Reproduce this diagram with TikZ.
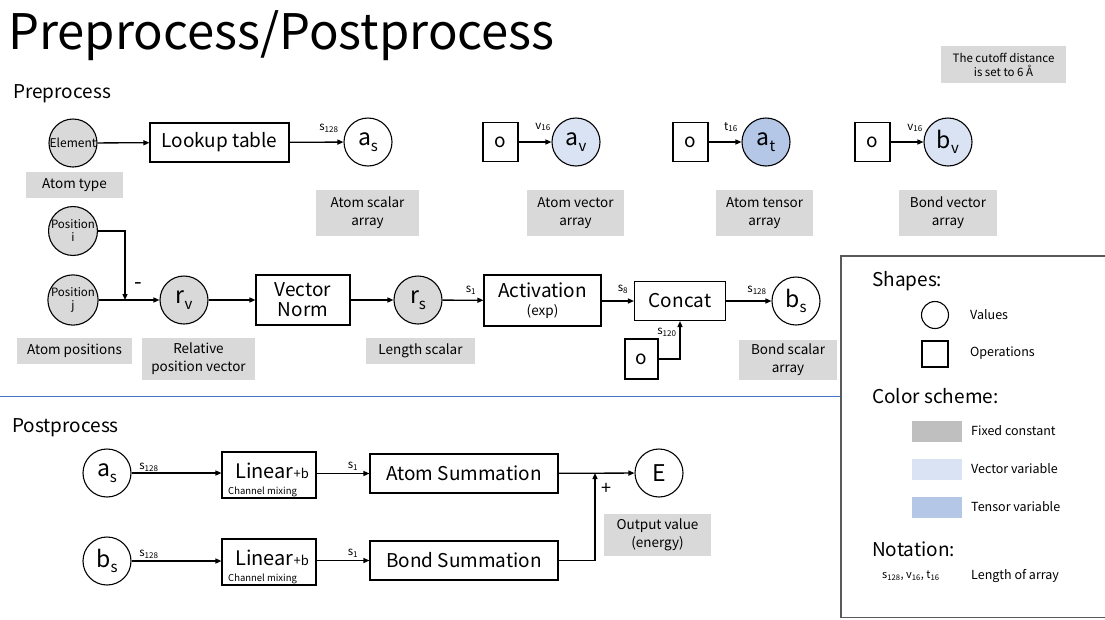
\documentclass[tikz,border=0pt]{standalone}
\usepackage{fontspec}
\setmainfont{Noto Sans CJK JP}
\usetikzlibrary{arrows.meta,calc}
\definecolor{notegray}{HTML}{D9D9D9}
\definecolor{valgray}{HTML}{D9D9D9}
\definecolor{swgray}{HTML}{BFBFBF}
\definecolor{vecblue}{HTML}{DAE3F3}
\definecolor{tenblue}{HTML}{B4C7E7}
\definecolor{rulblue}{HTML}{4472C4}
\definecolor{framegray}{HTML}{595959}
\newcommand\fsz[2]{\fontsize{#1}{#2}\selectfont}
\newcommand\lsub[1]{\textsubscript{#1}}
% subscript of a value name, set a little lower than usual
\newcommand\vsub[1]{\raisebox{-0.45ex}{\fontsize{15}{15}\selectfont #1}}
\tikzset{
  val/.style={circle, draw, line width=1.1pt, minimum size=48pt, inner sep=0pt, font=\fsz{23}{23}},
  fixed/.style={fill=valgray},
  op/.style={draw, line width=1.1pt, inner sep=0pt, align=center, font=\fsz{19}{21}},
  note/.style={fill=notegray, inner sep=0pt, align=center, font=\fsz{13.5}{18}},
  lab/.style={inner sep=0pt, font=\fsz{11.5}{11.5}},
  arr/.style={line width=1.3pt, -{Triangle[length=6pt,width=5pt]}},
  head/.style={inner sep=0pt, anchor=west, font=\fsz{19}{19}},
  legtext/.style={inner sep=0pt, anchor=west, font=\fsz{12.5}{12.5}},
}
\begin{document}
\begin{tikzpicture}[x=1pt,y=-1pt]
\useasboundingbox (0,0) rectangle (1105,619);

% title and section headings
\node[inner sep=0pt, anchor=base west, font=\fsz{49}{49}] (title) at (8,49) {Preprocess/Postprocess};
\node[head] (pre) at (13,94) {Preprocess};
\node[head] (post) at (12,428) {Postprocess};

% section separator and legend frame
\coordinate (sepL) at (0,396);
\coordinate (sepR) at (841,396);
\draw[rulblue, line width=1pt] (sepL) -- (sepR);
\draw[framegray, line width=1.1pt] (841,256) rectangle (1112,617.5);

% note on the cutoff
\node[note, minimum width=125pt, minimum height=37pt, font=\fsz{11.5}{14}] (cutoff) at (1003.5,64.5) {The cutoff distance\\is set to 6 Å};

% ---- preprocess, first row
\node[val, fixed, font=\fsz{12}{12}] (elem) at (73,143) {Element};
\node[note, minimum width=97pt, minimum height=26pt] (atype) at (74.5,185) {Atom type};
\node[op, minimum width=139pt, minimum height=39pt] (lookup) at (219.5,142.5) {Lookup table};
\node[val] (as) at (368,142) {a\vsub{s}};
\node[note, minimum width=103pt, minimum height=46pt] (asnote) at (367.5,213) {Atom scalar\\array};
\draw[arr] (elem) -- (lookup);
\draw[arr] (lookup) -- (as);
\node[lab] (las) at (329,128) {s\lsub{128}};

\node[op, minimum width=35pt, minimum height=39pt] (o1) at (500.5,142) {o};
\node[val, fill=vecblue] (av) at (576,142) {a\vsub{v}};
\node[note, minimum width=97pt, minimum height=46pt] (avnote) at (575.5,213) {Atom vector\\array};
\draw[arr] (o1) -- (av);
\node[lab] (lav) at (543,127) {v\lsub{16}};

\node[op, minimum width=35pt, minimum height=39pt] (o2) at (690.5,142) {o};
\node[val, fill=tenblue] (at) at (766,142) {a\vsub{t}};
\node[note, minimum width=97pt, minimum height=46pt] (atnote) at (764.5,213) {Atom tensor\\array};
\draw[arr] (o2) -- (at);
\node[lab] (lat) at (731,127) {t\lsub{16}};

\node[op, minimum width=35pt, minimum height=39pt] (o3) at (872.5,142) {o};
\node[val, fill=vecblue] (bv) at (948,142) {b\vsub{v}};
\node[note, minimum width=98pt, minimum height=46pt] (bvnote) at (948,213) {Bond vector\\array};
\draw[arr] (o3) -- (bv);
\node[lab] (lbv) at (915,128) {v\lsub{16}};

% ---- preprocess, second row
\node[val, fixed, font=\fsz{11.5}{13}, align=center] (posi) at (73,231) {Position\\i};
\node[val, fixed, font=\fsz{11.5}{13}, align=center] (posj) at (73,300) {Position\\j};
\node[note, minimum width=115pt, minimum height=26pt] (atompos) at (74.5,351) {Atom positions};
\coordinate (junc) at (125,300);
\node[val, fixed] (rv) at (184,300) {r\vsub{v}};
\node[note, minimum width=113pt, minimum height=42pt] (relpos) at (198.5,359) {Relative\\position vector};
\draw[arr] (posi.east) -| (junc);
\draw[arr] (posj) -- (rv);
\node[inner sep=0pt, font=\fsz{22}{22}] (minus) at (138,286) {-};

\node[op, minimum width=94pt, minimum height=50pt, font=\fsz{19}{20}] (vnorm) at (303,300) {Vector\\Norm};
\node[val, fixed] (rs) at (418,300) {r\vsub{s}};
\node[note, minimum width=109pt, minimum height=26pt] (lenscal) at (420.5,351) {Length scalar};
\draw[arr] (rv) -- (vnorm);
\draw[arr] (vnorm) -- (rs);

\node[op, minimum width=117pt, minimum height=51pt, font=\fsz{19}{19}] (act) at (542.5,300.5) {Activation\\[-1pt]{\fsz{13.5}{13.5}(exp)}};
\draw[arr] (rs) -- (act);
\node[lab] (lrs) at (471,290) {s\lsub{1}};

\node[op, minimum width=91pt, minimum height=39pt] (concat) at (680,301) {Concat};
\draw[arr] (act.east |- concat.west) -- (concat.west);
\node[lab] (lact) at (623,289) {s\lsub{8}};
\node[op, minimum width=33pt, minimum height=40pt] (o4) at (641.5,359) {o};
\draw[arr] (o4.east) -| (concat.south);
\node[lab] (lo4) at (667,332) {s\lsub{120}};

\node[val] (bs) at (796,301) {b\vsub{s}};
\node[note, minimum width=98pt, minimum height=40pt] (bsnote) at (788,360) {Bond scalar\\array};
\draw[arr] (concat) -- (bs);
\node[lab] (lbs) at (757,290) {s\lsub{128}};

% ---- postprocess
\node[val] (pas) at (107,473) {a\vsub{s}};
\node[op, minimum width=94pt, minimum height=46pt] (lin1) at (269,475) {};
\node[inner sep=0pt, anchor=base west, font=\fsz{20}{20}] (lin1t) at (235,478) {Linear{\fsz{13}{13}+b}};
\node[inner sep=0pt, anchor=base west, font=\fsz{9.5}{9.5}] (lin1c) at (228,494) {Channel mixing};
\draw[arr] (pas) -- (lin1.west |- pas);
\node[lab] (lpas) at (149,467) {s\lsub{128}};

\node[op, minimum width=188pt, minimum height=39pt] (atomsum) at (464,473.5) {Atom Summation};
\draw[arr] (lin1.east |- atomsum) -- (atomsum);
\node[lab] (llin1) at (353,466) {s\lsub{1}};

\node[val] (pbs) at (107,561) {b\vsub{s}};
\node[op, minimum width=94pt, minimum height=46pt] (lin2) at (269,562) {};
\node[inner sep=0pt, anchor=base west, font=\fsz{20}{20}] (lin2t) at (235,565) {Linear{\fsz{13}{13}+b}};
\node[inner sep=0pt, anchor=base west, font=\fsz{9.5}{9.5}] (lin2c) at (228,581) {Channel mixing};
\draw[arr] (pbs) -- (lin2.west |- pbs);
\node[lab] (lpbs) at (149,554) {s\lsub{128}};

\node[op, minimum width=188pt, minimum height=39pt] (bondsum) at (464,560.5) {Bond Summation};
\draw[arr] (lin2.east |- bondsum) -- (bondsum);
\node[lab] (llin2) at (353,553) {s\lsub{1}};

\node[val] (E) at (659,473) {E};
\coordinate (merge) at (595,473);
\draw[arr] (atomsum) -- (E);
\draw[arr] (bondsum.east) -| (merge);
\node[inner sep=0pt, font=\fsz{18}{18}] (plus) at (606,489) {+};
\node[note, minimum width=107pt, minimum height=42pt] (outnote) at (657.5,535) {Output value\\(energy)};

% ---- legend
\node[head] (lshapes) at (872,281) {Shapes:};
\node[circle, draw, line width=1.1pt, minimum size=27pt, inner sep=0pt] (lcirc) at (935,315) {};
\node[legtext] (lvalues) at (970,315) {Values};
\node[draw, line width=1.1pt, minimum size=26pt, inner sep=0pt] (lsq) at (935,354) {};
\node[legtext] (lops) at (970,353) {Operations};
\node[head] (lcolor) at (872,396) {Color scheme:};
\node[fill=swgray, minimum width=50pt, minimum height=21pt, inner sep=0pt] (sw1) at (937,431.5) {};
\node[legtext] (lfixed) at (971,431) {Fixed constant};
\node[fill=vecblue, minimum width=50pt, minimum height=21pt, inner sep=0pt] (sw2) at (937,469.5) {};
\node[legtext] (lvec) at (971,469) {Vector variable};
\node[fill=tenblue, minimum width=50pt, minimum height=21pt, inner sep=0pt] (sw3) at (937,507.5) {};
\node[legtext] (lten) at (971,507) {Tensor variable};
\node[head] (lnot) at (872,549) {Notation:};
\node[inner sep=0pt, anchor=west, font=\fsz{11}{11}] (lsyms) at (882,576) {s\lsub{128}, v\lsub{16}, t\lsub{16}};
\node[legtext] (llen) at (971,576) {Length of array};
\end{tikzpicture}
\end{document}
